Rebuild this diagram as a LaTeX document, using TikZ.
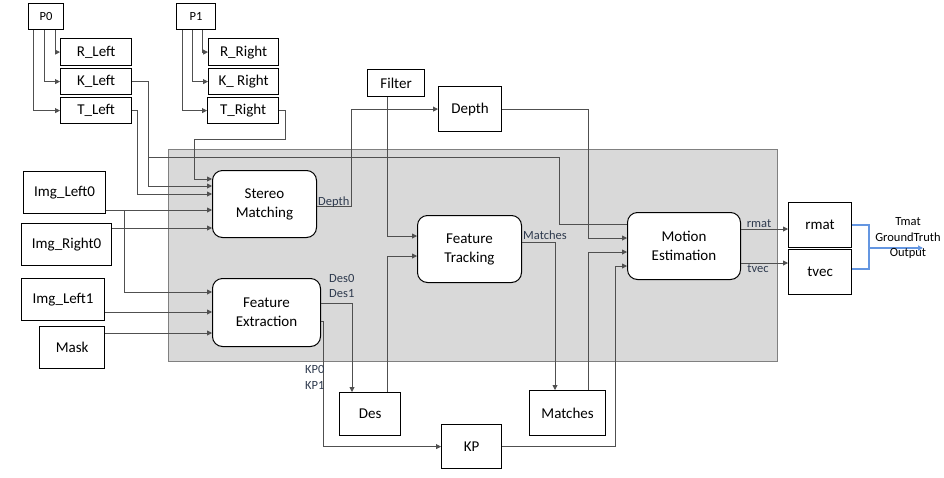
\documentclass[tikz,border=0pt]{standalone}
\usepackage{fontspec}
\setmainfont{Carlito}
\usetikzlibrary{arrows.meta}
\definecolor{cgray}{HTML}{505050}
\definecolor{labc}{HTML}{2E3A4E}
\definecolor{bluec}{RGB}{100,150,225}
\definecolor{bgfill}{HTML}{D9D9D9}
\begin{document}
\begin{tikzpicture}[x=1pt,y=-1pt,
  box/.style={draw=black,line width=1.2pt,fill=white,inner sep=0pt,anchor=north west,font=\fontsize{15}{19}\selectfont,align=center},
  rbox/.style={draw=black,line width=1pt,fill=white,rounded corners=10pt,inner sep=0pt,anchor=north west,font=\fontsize{15}{19}\selectfont,align=center},
  smalltext/.style={font=\fontsize{12.5}{15.5}\selectfont},
  cline/.style={draw=cgray,line width=0.9pt},
  arr/.style={cline,-{Triangle[length=5pt,width=5pt]}},
  bline/.style={color=bluec,line width=1.2pt},
  lbl/.style={font=\fontsize{12.5}{15}\selectfont,text=labc,inner sep=0pt}]
\useasboundingbox (0,0) rectangle (944,477);
% background panel
\node[draw=gray,line width=1pt,fill=bgfill,minimum width=609pt,minimum height=212pt,inner sep=0pt,anchor=north west] (panel) at (168,149) {};
% boxes
\node[box,smalltext,minimum width=35pt,minimum height=26pt] (P0) at (28,3) {P0};
\node[box,minimum width=71pt,minimum height=27pt] (RL) at (60,38) {R\_Left};
\node[box,minimum width=71pt,minimum height=26pt] (KL) at (60,68) {K\_Left};
\node[box,minimum width=71pt,minimum height=26pt] (TL) at (60,97) {T\_Left};
\node[box,smalltext,minimum width=39pt,minimum height=26pt] (P1) at (176,3) {P1};
\node[box,minimum width=70pt,minimum height=27pt] (RR) at (208,38) {R\_Right};
\node[box,minimum width=70pt,minimum height=26pt] (KR) at (208,68) {K\_ Right};
\node[box,minimum width=71pt,minimum height=26pt] (TR) at (207,97) {T\_Right};
\node[box,minimum width=82pt,minimum height=42pt] (IL0) at (23,171) {Img\_Left0};
\node[box,minimum width=90pt,minimum height=42pt] (IR0) at (21,223) {Img\_Right0};
\node[box,minimum width=83pt,minimum height=42pt] (IL1) at (21,278) {Img\_Left1};
\node[box,minimum width=65pt,minimum height=42pt] (MK) at (39,326) {Mask};
\node[box,minimum width=57pt,minimum height=27pt] (FI) at (367,69) {Filter};
\node[box,minimum width=63pt,minimum height=45pt] (DP) at (438,86) {Depth};
\node[box,minimum width=61pt,minimum height=43pt] (DS) at (339,392) {Des};
\node[box,minimum width=60pt,minimum height=44pt] (KP) at (441,424) {KP};
\node[box,minimum width=76pt,minimum height=45pt] (MA) at (529,390) {Matches};
\node[box,minimum width=63pt,minimum height=45pt] (RM) at (788,202) {rmat};
\node[box,minimum width=63pt,minimum height=45pt] (TV) at (788,249) {tvec};
\node[rbox,minimum width=104pt,minimum height=67pt] (SM) at (212,170) {Stereo\\Matching};
\node[rbox,minimum width=108pt,minimum height=68pt] (FE) at (212,278) {Feature\\Extraction};
\node[rbox,minimum width=104pt,minimum height=67pt] (FT) at (417,215) {Feature\\Tracking};
\node[rbox,minimum width=113pt,minimum height=67pt] (ME) at (627,212) {Motion\\Estimation};
% P0 / P1 fan-out
\draw[arr] (P0.south -| 55,0) |- (RL.west);
\draw[arr] (P0.south -| 44,0) |- (KL.west);
\draw[arr] (P0.south -| 33,0) |- (TL.west);
\draw[arr] (P1.south -| 202,0) |- (RR.west);
\draw[arr] (P1.south -| 192,0) |- (KR.west);
\draw[arr] (P1.south -| 182,0) |- (TR.west);
% into stereo matching
\draw[arr] (TR.east) -| (285,139) -| (194,179) -- (SM.west |- 0,179);
\draw[arr] (KL.east) -| (148,186) -- (SM.west |- 0,186);
\draw[cline] (148,157) -| (559,224) -- (ME.west |- 0,224);
\draw[arr] (TL.east) -| (137,194) -- (SM.west |- 0,194);
\draw[arr] (IL0.east |- 0,210) -- (SM.west |- 0,210);
\draw[arr] (124,210) |- (FE.west |- 0,292);
\draw[arr] (IR0.east |- 0,228) -- (SM.west |- 0,228);
\draw[arr] (IL1.east |- 0,312) -- (FE.west |- 0,312);
\draw[arr] (MK.east |- 0,333) -- (FE.west |- 0,333);
% stereo -> depth
\draw[arr] (SM.east |- 0,206) -- (351,206) |- (DP.west);
% filter, des -> feature tracking
\draw[arr] (FI.south -| 387,0) |- (FT.west |- 0,236);
\draw[arr] (DS.north -| 387,0) |- (FT.west |- 0,256);
% into motion estimation
\draw[arr] (DP.east) -| (588,238) -- (ME.west |- 0,238);
\draw[arr] (FT.east |- 0,242) -| (MA.north -| 555,0);
\draw[arr] (MA.north -| 588,0) |- (ME.west |- 0,252);
\draw[arr] (KP.east) -| (615,266) -- (ME.west |- 0,266);
% feature extraction outputs
\draw[arr] (FE.east |- 0,303) -| (DS.north -| 352,0);
\draw[arr] (FE.east |- 0,321) -- (323,321) |- (KP.west);
% motion estimation outputs
\draw[arr] (ME.east |- 0,229) -- (RM.west |- 0,229);
\draw[arr] (ME.east |- 0,263) -- (TV.west |- 0,263);
% blue output
\coordinate (outend) at (923,248);
\draw[bline] (RM.east |- 0,225) -- (869,225) -- (869,248);
\draw[bline] (TV.east |- 0,269) -- (869,269) -- (869,248);
\draw[bline,-{Triangle[length=5pt,width=5pt]}] (869,248) -- (outend);
% labels
\node[lbl,anchor=base west] (lDepth) at (318,205) {Depth};
\node[lbl,anchor=base west] (lMatches) at (523,239) {Matches};
\node[lbl,anchor=base west] (lDes0) at (329,282) {Des0};
\node[lbl,anchor=base west] (lDes1) at (329,297) {Des1};
\node[lbl,anchor=base west] (lKP0) at (305,373) {KP0};
\node[lbl,anchor=base west] (lKP1) at (305,389) {KP1};
\node[lbl,anchor=base] (lrmat) at (759,227) {rmat};
\node[lbl,anchor=base] (ltvec) at (758,272) {tvec};
\node[lbl,text=black,align=center,font=\fontsize{12.5}{15.5}\selectfont] (lout) at (908,238) {Tmat\\GroundTruth\\Output};
\end{tikzpicture}
\end{document}
